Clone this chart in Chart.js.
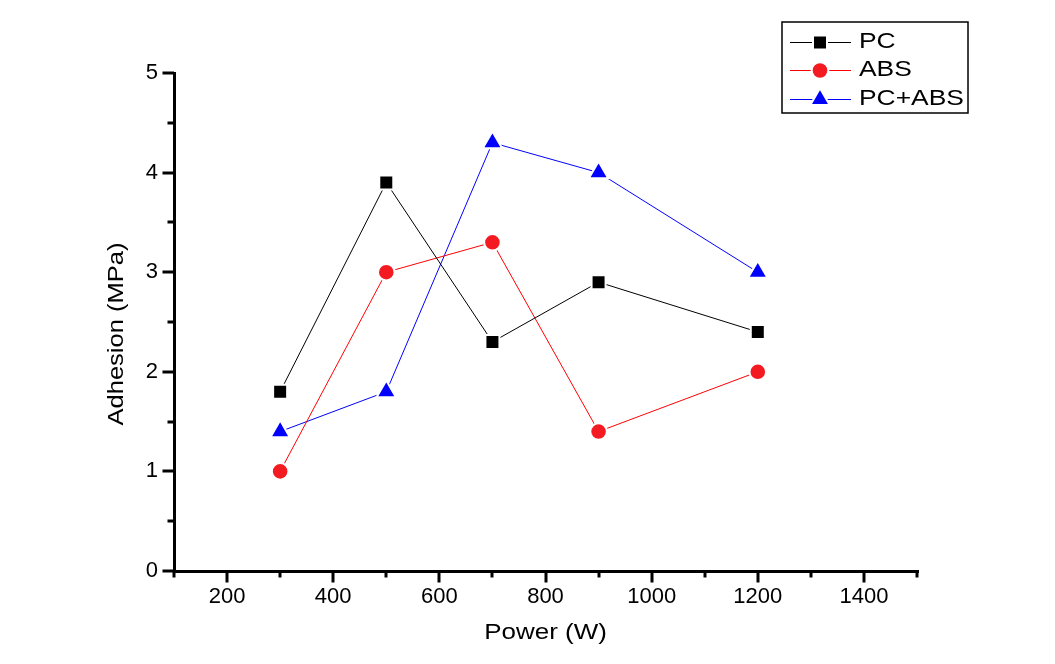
<!DOCTYPE html>
<html><head><meta charset="utf-8">
<script src="https://cdn.jsdelivr.net/npm/chart.js@4.4.0/dist/chart.umd.min.js"></script>
<style>html,body{margin:0;padding:0;background:#fff;overflow:hidden}#wrap{position:relative;width:1055px;height:664px}</style>
</head><body><div id="wrap"><canvas id="c" width="1055" height="664"></canvas></div>
<script>
const powerW = [300, 500, 700, 900, 1200];
const adhesionPC = [1.8, 3.9, 2.3, 2.9, 2.4];
const adhesionABS = [1.0, 3.0, 3.3, 1.4, 2.0];
const adhesionPCABS = [1.4, 1.8, 4.3, 4.0, 3.0];
const seriesNames = ['PC', 'ABS', 'PC+ABS'];
const xMajorTicks = [200, 400, 600, 800, 1000, 1200, 1400];
const xMinorTicks = [100, 300, 500, 700, 900, 1100, 1300, 1500];
const yMajorTicks = [0, 1, 2, 3, 4, 5];
const yMinorTicks = [0.5, 1.5, 2.5, 3.5, 4.5];
const xTitle = 'Power (W)';
const yTitle = 'Adhesion (MPa)';

const FONT = "'Liberation Sans', Arial, sans-serif";
const toPts = (ys) => powerW.map((x, i) => ({x: x, y: ys[i]}));

const styles = [
  {line: '#000000', fill: '#000000', shape: 'rect', r: 9.9},
  {line: '#ff0000', fill: '#f41a22', shape: 'circle', r: 8.3},
  {line: '#0000ff', fill: '#0000ff', shape: 'triangle', r: 11.2}
];
const seriesData = [adhesionPC, adhesionABS, adhesionPCABS];

const datasets = seriesData.map((d, i) => ({
  label: seriesNames[i],
  data: toPts(d),
  borderColor: styles[i].line,
  borderWidth: 1,
  backgroundColor: styles[i].fill,
  pointBackgroundColor: styles[i].fill,
  pointBorderColor: '#ffffff',
  pointBorderWidth: 2,
  pointStyle: styles[i].shape,
  pointRadius: styles[i].r,
  pointHoverRadius: styles[i].r,
  tension: 0,
  fill: false
}));

function marker(ctx, shape, x, y, r, fill) {
  ctx.save();
  ctx.beginPath();
  if (shape === 'rect') {
    const s = Math.SQRT1_2 * r;
    ctx.rect(x - s, y - s, 2 * s, 2 * s);
  } else if (shape === 'circle') {
    ctx.arc(x, y, r, 0, Math.PI * 2);
  } else {
    let a = 0;
    ctx.moveTo(x + Math.sin(a) * r, y - Math.cos(a) * r);
    a += 2 * Math.PI / 3;
    ctx.lineTo(x + Math.sin(a) * r, y - Math.cos(a) * r);
    a += 2 * Math.PI / 3;
    ctx.lineTo(x + Math.sin(a) * r, y - Math.cos(a) * r);
    ctx.closePath();
  }
  ctx.fillStyle = fill;
  ctx.fill();
  ctx.lineWidth = 2;
  ctx.strokeStyle = '#ffffff';
  ctx.stroke();
  ctx.restore();
}

const decor = {
  id: 'decor',
  afterDraw(chart) {
    const ctx = chart.ctx;
    const ca = chart.chartArea;
    const xs = chart.scales.x, ys = chart.scales.y;
    ctx.save();
    ctx.strokeStyle = '#000';
    ctx.lineWidth = 3;
    ctx.lineCap = 'butt';
    const xt = (vals, len) => vals.forEach(v => {
      const p = Math.round(xs.getPixelForValue(v));
      ctx.beginPath(); ctx.moveTo(p, ca.bottom); ctx.lineTo(p, ca.bottom + 1.5 + len); ctx.stroke();
    });
    const yt = (vals, len) => vals.forEach(v => {
      const p = Math.round(ys.getPixelForValue(v));
      ctx.beginPath(); ctx.moveTo(ca.left, p); ctx.lineTo(ca.left - 1.5 - len, p); ctx.stroke();
    });
    xt(xMajorTicks, 10); xt(xMinorTicks, 5);
    yt(yMajorTicks, 10); yt(yMinorTicks, 5);

    // axis titles
    ctx.fillStyle = '#000';
    ctx.font = '22px ' + FONT;
    ctx.textAlign = 'center';
    ctx.textBaseline = 'alphabetic';
    ctx.save();
    ctx.translate((ca.left + ca.right) / 2, ca.bottom + 68);
    ctx.scale(1.18, 1);
    ctx.fillText(xTitle, 0, 0);
    ctx.restore();
    ctx.save();
    ctx.translate(123, (ca.top + ca.bottom) / 2 + 12);
    ctx.rotate(-Math.PI / 2);
    ctx.scale(1.16, 1);
    ctx.fillText(yTitle, 0, 0);
    ctx.restore();

    // legend
    ctx.lineWidth = 1.5;
    ctx.strokeStyle = '#000';
    ctx.strokeRect(782, 22, 186, 91);
    const rows = [42, 70, 99];
    chart.data.datasets.forEach((ds, i) => {
      const y = rows[i];
      ctx.beginPath();
      ctx.lineWidth = 1;
      ctx.strokeStyle = ds.borderColor;
      ctx.moveTo(790, y + 0.5); ctx.lineTo(851, y + 0.5); ctx.stroke();
      marker(ctx, ds.pointStyle, 820, y + 0.5, ds.pointRadius, ds.pointBackgroundColor);
      ctx.save();
      ctx.translate(859, y + 5.5);
      ctx.scale(1.2, 1);
      ctx.textAlign = 'left';
      ctx.fillStyle = '#000';
      ctx.font = '22px ' + FONT;
      ctx.fillText(ds.label, 0, 0);
      ctx.restore();
    });
    ctx.restore();
  }
};

new Chart(document.getElementById('c'), {
  type: 'line',
  data: {datasets: datasets},
  plugins: [decor],
  options: {
    responsive: false,
    animation: false,
    devicePixelRatio: 1,
    layout: {padding: {top: 73, right: 138, left: 0, bottom: 0}},
    plugins: {legend: {display: false}, tooltip: {enabled: false}},
    scales: {
      x: {
        type: 'linear', min: 100, max: 1500,
        afterBuildTicks: s => { s.ticks = xMajorTicks.map(v => ({value: v})); },
        afterFit: s => { s.height = 93; },
        ticks: {color: '#000', font: {family: FONT, size: 22}, padding: 13, autoSkip: false, maxRotation: 0, callback: v => String(v)},
        grid: {drawOnChartArea: false, drawTicks: false, lineWidth: 3, color: '#000'},
        border: {display: true, color: '#000', width: 3}
      },
      y: {
        type: 'linear', min: 0, max: 5,
        afterBuildTicks: s => { s.ticks = yMajorTicks.map(v => ({value: v})); },
        afterFit: s => { s.width = 174; },
        ticks: {color: '#000', font: {family: FONT, size: 22}, padding: 16, autoSkip: false, callback: v => String(v)},
        grid: {drawOnChartArea: false, drawTicks: false, lineWidth: 3, color: '#000'},
        border: {display: true, color: '#000', width: 3}
      }
    }
  }
});
</script>
</body></html>
